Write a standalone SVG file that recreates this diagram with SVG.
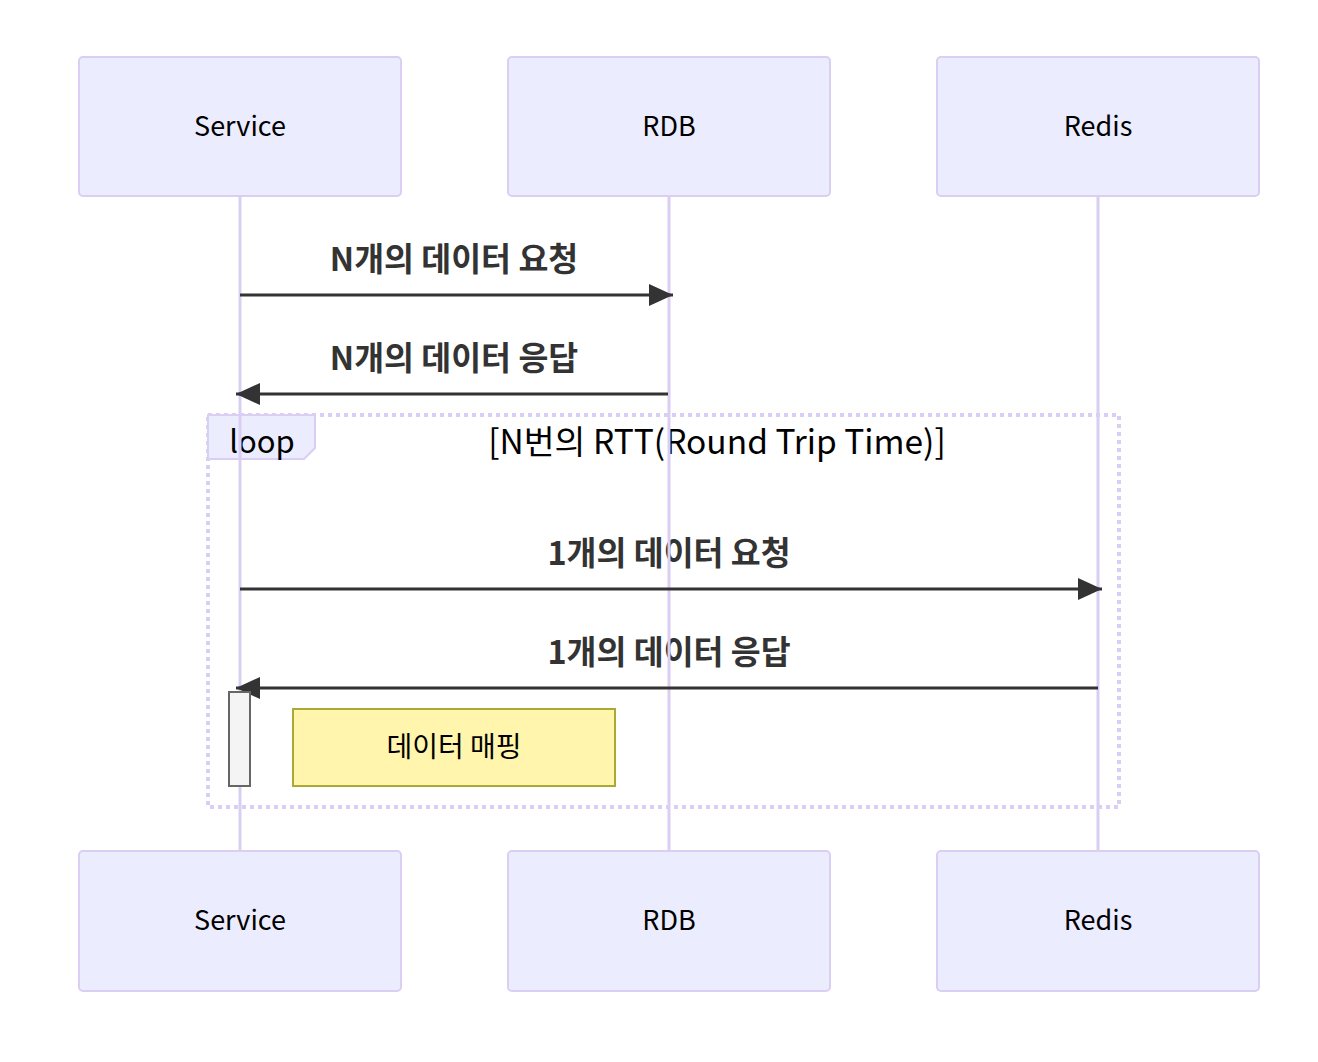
<svg xmlns="http://www.w3.org/2000/svg" width="1318" height="1062" viewBox="0 0 1318 1062">
<style>
.actor{fill:#ECECFF;stroke:#DACEF3;stroke-width:2}
.atext{font-family:"Noto Sans CJK KR","Noto Sans",sans-serif;font-size:27px;fill:#000;text-anchor:middle;dominant-baseline:central}
.ntext{font-family:"Noto Sans CJK KR","Noto Sans",sans-serif;font-size:28px;fill:#000;text-anchor:middle;dominant-baseline:central}
.life{stroke:#DACEF3;stroke-width:3}
.msg{stroke:#333;stroke-width:3;fill:none}
.mtext{font-family:"Noto Sans CJK KR","Noto Sans",sans-serif;font-size:32.5px;font-weight:bold;fill:#333;text-anchor:middle}
.loopline{fill:none;stroke:#DACEF3;stroke-width:4;stroke-dasharray:4 4}
.looplabel{fill:#ECECFF;stroke:#DACEF3;stroke-width:2}
.ltext{font-family:"Noto Sans CJK KR","Noto Sans",sans-serif;font-size:31px;fill:#000;text-anchor:middle;dominant-baseline:central}
.ttext{font-family:"Noto Sans CJK KR","Noto Sans",sans-serif;font-size:33.5px;fill:#000;text-anchor:middle;dominant-baseline:central}
</style>
<defs>
<marker id="ah2" viewBox="0 0 24 22" refX="24" refY="11" markerWidth="24" markerHeight="22" markerUnits="userSpaceOnUse" orient="auto">
<path d="M0,0 L24,11 L0,22 z" fill="#333"/>
</marker>
</defs>
<g id="loop">
<rect class="loopline" x="208" y="415" width="911" height="392"/>
<polygon class="looplabel" points="208,415 315,415 315,448 304,459 208,459"/>
<text class="ltext" x="262" y="439">loop</text>
<text class="ttext" x="717" y="439">[N번의 RTT(Round Trip Time)]</text>
</g>
<g id="messages-text">
<text class="mtext" x="454" y="271">N개의 데이터 요청</text>
<text class="mtext" x="454" y="370">N개의 데이터 응답</text>
<text class="mtext" x="669" y="565">1개의 데이터 요청</text>
<text class="mtext" x="669" y="664">1개의 데이터 응답</text>
</g>
<g id="lifelines">
<line class="life" x1="240" y1="196" x2="240" y2="851"/>
<line class="life" x1="669" y1="196" x2="669" y2="851"/>
<line class="life" x1="1098" y1="196" x2="1098" y2="851"/>
</g>
<g id="connectors">
<line class="msg" x1="240" y1="295" x2="673" y2="295" marker-end="url(#ah2)"/>
<line class="msg" x1="668" y1="394" x2="236" y2="394" marker-end="url(#ah2)"/>
<line class="msg" x1="240" y1="589" x2="1102" y2="589" marker-end="url(#ah2)"/>
<line class="msg" x1="1098" y1="688" x2="236" y2="688" marker-end="url(#ah2)"/>
</g>
<g id="activation">
<rect x="229" y="692" width="21" height="94" fill="#F4F4F4" stroke="#666" stroke-width="2"/>
</g>
<g id="note">
<rect x="293" y="709" width="322" height="77" fill="#FFF5AD" stroke="#AAAA33" stroke-width="2"/>
<text class="ntext" x="454" y="745">데이터 매핑</text>
</g>
<g id="service-top"><rect class="actor" x="79" y="57" width="322" height="139" rx="4"/><text class="atext" x="240" y="124">Service</text></g>
<g id="rdb-top"><rect class="actor" x="508" y="57" width="322" height="139" rx="4"/><text class="atext" x="669" y="124">RDB</text></g>
<g id="redis-top"><rect class="actor" x="937" y="57" width="322" height="139" rx="4"/><text class="atext" x="1098" y="124">Redis</text></g>
<g id="service-bottom"><rect class="actor" x="79" y="851" width="322" height="140" rx="4"/><text class="atext" x="240" y="918">Service</text></g>
<g id="rdb-bottom"><rect class="actor" x="508" y="851" width="322" height="140" rx="4"/><text class="atext" x="669" y="918">RDB</text></g>
<g id="redis-bottom"><rect class="actor" x="937" y="851" width="322" height="140" rx="4"/><text class="atext" x="1098" y="918">Redis</text></g>
</svg>
